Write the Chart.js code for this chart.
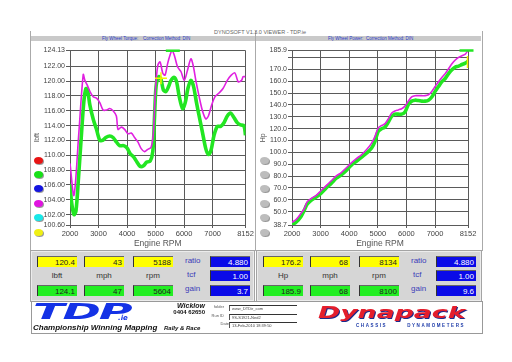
<!DOCTYPE html>
<html>
<head>
<meta charset="utf-8">
<script src="https://cdn.jsdelivr.net/npm/chart.js@4.4.0/dist/chart.umd.min.js"></script>
<style>
body{margin:0;width:512px;height:362px;background:#fff;position:relative;overflow:hidden;font-family:"Liberation Sans",Arial,sans-serif}
.a{position:absolute}
.frame{left:30px;top:31px;width:451px;height:220px;border-left:1px solid #aaa;border-right:1px solid #aaa}
.bar{top:36px;height:5px;background:#c9c9c9}
.hdr{top:36px;font-size:4.5px;line-height:5px;color:#2a3ac8;white-space:nowrap}
.dot{width:9px;height:7px;border-radius:50%;box-shadow:1px 1px 0 #999}
.panel{top:250px;height:50px;background:#d6d6d6;border:1px solid #a4a4a4;box-shadow:inset 0 0 0 1px #ececec}
.box{height:11px;font-size:8px;line-height:12px;text-align:right;padding-right:2px;box-sizing:border-box;border-left:1px solid #333;border-top:1px solid #666}
.y{background:#ffff00;color:#222}
.g{background:#22ee22;color:#222}
.b{background:#0a0ae8;color:#fff}
.lbl{font-size:8px;color:#333;text-align:center;width:40px}
.blu{font-size:8px;color:#3c3cb8}
.strip{left:31px;top:301px;width:450px;height:31px;border:1px solid #999;background:#fff}
.fld{left:197px;width:68px;height:6px;border-top:1px solid #333;border-left:1px solid #555;background:#fff;font-size:4px;line-height:6px;color:#444;padding-left:2px;box-sizing:border-box;white-space:nowrap;overflow:hidden}
.fl{font-size:4px;color:#555;text-align:right;width:20px;left:172px;white-space:nowrap}
</style>
</head>
<body>
<div class="a frame"></div>
<div class="a" style="left:255px;top:31px;width:1px;height:220px;background:#aaa"></div>
<div class="a bar" style="left:31px;width:224px"></div>
<div class="a bar" style="left:256px;width:225px"></div>
<div class="a" style="left:190px;top:29px;width:140px;text-align:center;font-size:5.5px;color:#666;white-space:nowrap">DYNOSOFT V1.3.0 VIEWER - TDP.ie</div>
<div class="a hdr" style="left:102px">Fly Wheel Torque:</div>
<div class="a hdr" style="left:143px">Correction Method: DIN</div>
<div class="a hdr" style="left:328px">Fly Wheel Power:</div>
<div class="a hdr" style="left:366px">Correction Method: DIN</div>

<canvas id="torque" class="a" width="225" height="209" style="left:30px;top:41px"></canvas>
<canvas id="power" class="a" width="226" height="209" style="left:256px;top:41px"></canvas>

<div id="dots"></div>
<div id="panels"></div>

<div class="a strip">
  <div class="a" style="left:1px;top:-3px;font-family:'DejaVu Sans';font-weight:bold;font-style:italic;font-size:22px;color:#1432e6;transform-origin:0 0;transform:scaleX(2.1);letter-spacing:-1px">TDP</div>
  <div class="a" style="left:86px;top:12px;font-family:'DejaVu Sans';font-weight:bold;font-style:italic;font-size:7px;color:#1432e6">.ie</div>
  <div class="a" style="left:1px;top:21px;font-weight:bold;font-style:italic;font-size:8px;color:#111;white-space:nowrap">Championship Winning Mapping</div>
  <div class="a" style="left:132px;top:22.5px;font-weight:bold;font-style:italic;font-size:6px;color:#111;white-space:nowrap">Rally &amp; Race</div>
  <div class="a" style="left:130px;top:0px;width:43px;text-align:right;font-weight:bold;font-style:italic;font-size:7px;color:#111">Wicklow</div>
  <div class="a" style="left:130px;top:7px;width:43px;text-align:right;font-weight:bold;font-size:6px;color:#111;white-space:nowrap">0404 62650</div>
  <div class="a fl" style="top:2px">folder</div>
  <div class="a fl" style="top:11px">Run ID</div>
  <div class="a fl" style="top:19px;left:177px">Date</div>
  <div class="a fld" style="top:3px">www_DTDir_com</div>
  <div class="a fld" style="top:12px">9S-S1921-Ned2</div>
  <div class="a fld" style="top:20px">13-Feb-2010 18:39:50</div>
  <div class="a" style="left:286px;top:1px;font-family:'DejaVu Sans';font-weight:bold;font-style:italic;font-size:16.5px;color:#e41e2c;transform-origin:0 0;transform:scaleX(1.62);text-shadow:0.6px 0.8px 0 #1c2a8c;white-space:nowrap">Dynapack</div>
  <div class="a" style="left:324px;top:21px;font-weight:bold;font-size:4.5px;color:#1c3aa8;letter-spacing:1.6px;white-space:nowrap">CHASSIS&nbsp;&nbsp;&nbsp;&nbsp;&nbsp;&nbsp;&nbsp;DYNAMOMETERS</div>
</div>

<script>
// rpm axis
var rpmTicks = [2000, 3000, 4000, 5000, 6000, 7000, 8152];
var torqueTicks = [100.6, 102, 104, 106, 108, 110, 112, 114, 116, 118, 120, 122, 124.13];
var powerTicks = [38.7, 50, 60, 70, 80, 90, 100, 110, 120, 130, 140, 150, 160, 170, 180, 185.9];

// torque runs (lbft)
var torqueRpmMag = [2000, 2139, 2300, 2464, 2522, 2600, 2700, 2812, 2930, 3045, 3160, 3277, 3393, 3509, 3625, 3683, 3799, 3915, 4031, 4147, 4263, 4380, 4496, 4612, 4728, 4844, 4925, 4995, 5076, 5157, 5250, 5331, 5424, 5505, 5575, 5656, 5772, 5888, 6005, 6121, 6237, 6318, 6411, 6527, 6643, 6759, 6852, 6968, 7084, 7223, 7363, 7514, 7653, 7781, 7897, 8013, 8071, 8152];
var torqueMag = [108.9, 104.6, 112.5, 120.9, 120.1, 119.5, 118.6, 117.9, 117.7, 117.1, 116.1, 116.1, 116.3, 116.0, 115.3, 113.5, 113.8, 113.5, 112.9, 113.0, 112.4, 111.8, 110.9, 110.5, 110.8, 111.1, 113.1, 118.8, 122.1, 122.6, 121.1, 120.8, 122.4, 123.5, 124.1, 123.5, 121.9, 121.3, 120.1, 121.5, 123.0, 122.1, 120.1, 117.9, 116.0, 114.9, 115.3, 116.8, 117.9, 118.4, 119.0, 120.1, 120.8, 121.1, 119.9, 120.1, 120.6, 120.6];
var torqueRpmGrn = [2000, 2058, 2139, 2209, 2290, 2406, 2487, 2557, 2615, 2696, 2812, 2928, 3045, 3137, 3254, 3393, 3509, 3625, 3741, 3880, 3996, 4113, 4229, 4345, 4461, 4577, 4693, 4809, 4902, 4960, 5018, 5111, 5192, 5273, 5366, 5459, 5540, 5656, 5737, 5830, 5947, 6040, 6133, 6237, 6330, 6434, 6527, 6643, 6759, 6852, 6945, 7049, 7165, 7281, 7398, 7514, 7630, 7746, 7862, 7979, 8095, 8152];
var torqueGrn = [106.1, 103.6, 102.0, 102.5, 106.5, 113.1, 117.3, 119.0, 118.8, 116.8, 114.9, 113.5, 112.0, 112.0, 112.4, 112.6, 112.4, 111.8, 111.3, 111.3, 111.0, 110.2, 109.8, 109.1, 108.5, 108.6, 109.1, 109.2, 110.5, 114.9, 119.3, 120.6, 120.2, 118.8, 118.6, 119.3, 120.1, 120.5, 119.9, 117.9, 116.3, 117.1, 119.0, 120.1, 119.3, 117.1, 115.3, 113.1, 110.9, 110.1, 110.7, 112.7, 113.9, 113.9, 114.4, 115.3, 115.7, 115.1, 114.4, 114.1, 114.0, 112.7];

// power runs (Hp)
var powerRpm = [2000, 2141, 2316, 2434, 2527, 2668, 2844, 3019, 3195, 3371, 3547, 3722, 3898, 4074, 4250, 4426, 4602, 4777, 4894, 5012, 5129, 5246, 5363, 5480, 5597, 5715, 5832, 5949, 6066, 6183, 6300, 6418, 6535, 6652, 6769, 6886, 7004, 7121, 7238, 7355, 7473, 7590, 7707, 7824, 7941, 8059, 8152];
var powerMag = [41.0, 43.2, 48.6, 52.7, 58.2, 61.0, 63.7, 67.8, 71.9, 76.0, 80.1, 82.9, 87.0, 91.1, 94.7, 97.9, 102.1, 107.5, 113.0, 120.4, 122.6, 124.0, 128.1, 133.0, 134.9, 135.8, 136.8, 139.0, 143.2, 146.7, 147.8, 147.8, 147.8, 147.8, 148.6, 151.4, 155.5, 159.6, 163.2, 166.4, 170.5, 174.7, 177.9, 180.1, 181.5, 182.9, 185.9];
var powerGrn = [39.0, 41.0, 45.9, 51.4, 56.2, 59.6, 62.3, 65.6, 70.0, 73.8, 78.2, 81.0, 84.8, 89.2, 92.5, 95.8, 99.3, 103.4, 108.9, 117.7, 119.9, 121.2, 125.3, 130.3, 132.2, 132.2, 132.2, 134.1, 140.4, 143.2, 144.0, 143.7, 143.2, 143.2, 144.0, 146.7, 151.4, 155.5, 159.6, 162.3, 166.4, 169.7, 171.9, 172.7, 174.1, 175.2, 176.8];

// cursor readouts: [yellow, green]
var torqueCursorRpm = [5188, 5604];
var torqueCursor = [120.4, 124.1];
var torqueCursorMph = [43, 47];
var torqueGain = 3.7;
var powerCursorRpm = [8134, 8100];
var powerCursor = [176.2, 185.9];
var powerCursorMph = [68, 68];
var powerGain = 9.6;
var ratio = 4.880, tcf = 1.00;

var MAG = '#e020e0', GRN = '#22e622', GRID = '#5a5a5a', TXT = '#444';
var FONT = 'Liberation Sans';

function pts(xs, ys) { return xs.map(function (x, i) { return {x: x, y: ys[i]}; }); }

function makeChart(id, opt) {
  new Chart(document.getElementById(id), {
    type: 'line',
    data: {
      datasets: [
        {data: pts(opt.cx.slice(0, 1), opt.cy.slice(0, 1)), showLine: false, pointStyle: opt.yStyle, rotation: opt.yRot, pointRadius: 6,
         pointBorderColor: '#f4f400', pointBorderWidth: 1.5, clip: false},
        {data: pts(opt.cx.slice(1), opt.cy.slice(1)), showLine: false, pointStyle: 'line', pointRadius: 7,
         pointBorderColor: GRN, pointBorderWidth: 2.5, clip: false},
        {data: pts(opt.magX, opt.magY), borderColor: MAG, borderWidth: 1.6, pointRadius: 0, tension: 0.3},
        {data: pts(opt.grnX, opt.grnY), borderColor: GRN, borderWidth: 3.6, pointRadius: 0, tension: 0.3}
      ]
    },
    options: {
      responsive: false, animation: false, events: [],
      layout: {padding: {left: 0, right: opt.padR, top: 5, bottom: 0}},
      plugins: {legend: {display: false}, tooltip: {enabled: false}},
      scales: {
        x: {
          type: 'linear', min: 2000, max: 8152,
          afterBuildTicks: function (s) { s.ticks = rpmTicks.map(function (v) { return {value: v}; }); },
          afterFit: function (s) { s.height = 25; },
          ticks: {autoSkip: false, maxRotation: 0, padding: 1, color: TXT, font: {family: FONT, size: 7.5},
                  callback: function (v) { return String(v); }},
          grid: {color: GRID, tickLength: 3},
          border: {color: GRID},
          title: {display: true, text: 'Engine RPM', color: '#555', font: {family: FONT, size: 8.5}, padding: {top: 0, bottom: 1}}
        },
        y: {
          min: opt.yTicks[0], max: opt.yTicks[opt.yTicks.length - 1],
          afterBuildTicks: function (s) { s.ticks = opt.yTicks.map(function (v) { return {value: v}; }); },
          afterFit: function (s) { s.width = opt.yW; },
          ticks: {autoSkip: false, padding: 1, color: TXT, font: {family: FONT, size: 7}, callback: opt.fmt},
          grid: {color: GRID, tickLength: 4},
          border: {color: GRID},
          title: {display: true, text: opt.unit, color: '#555', font: {family: FONT, size: 7}, padding: {top: 3, bottom: 0}}
        }
      }
    }
  });
}

makeChart('torque', {
  magX: torqueRpmMag, magY: torqueMag, grnX: torqueRpmGrn, grnY: torqueGrn,
  cx: torqueCursorRpm, cy: torqueCursor, yStyle: 'cross', yRot: 0,
  yTicks: torqueTicks, yW: 40, padR: 8, unit: 'lbft',
  fmt: function (v) { return v.toFixed(2); }
});
makeChart('power', {
  magX: powerRpm, magY: powerMag, grnX: powerRpm, grnY: powerGrn,
  cx: powerCursorRpm, cy: powerCursor, yStyle: 'line', yRot: 90,
  yTicks: powerTicks, yW: 36, padR: 14, unit: 'Hp',
  fmt: function (v) { return v === 180 ? '' : v.toFixed(1); }
});

// run selector dots
var dotColors = ['#e81414', '#18e018', '#1414e0', '#e014e0', '#18e8e8', '#f0f014'];
var dotY = [157, 171, 185, 200, 214, 229];
var dh = '';
dotY.forEach(function (y, i) {
  dh += '<div class="a dot" style="left:34px;top:' + y + 'px;background:' + dotColors[i] + '"></div>';
  dh += '<div class="a dot" style="left:260px;top:' + y + 'px;background:#bdbdbd"></div>';
});
document.getElementById('dots').innerHTML = dh;

// readout panels
function panel(left, width, unit, cur, rpm, mph, gain) {
  var h = '<div class="a panel" style="left:' + left + 'px;width:' + width + 'px">';
  var cols = [6, 53, 102];
  var top = [cur[0].toFixed(1), mph[0], rpm[0]];
  var bot = [cur[1].toFixed(1), mph[1], rpm[1]];
  var names = [unit, 'mph', 'rpm'];
  cols.forEach(function (x, i) {
    h += '<div class="a box y" style="left:' + x + 'px;top:5px;width:40px">' + top[i] + '</div>';
    h += '<div class="a lbl" style="left:' + x + 'px;top:20px">' + names[i] + '</div>';
    h += '<div class="a box g" style="left:' + x + 'px;top:34px;width:40px">' + bot[i] + '</div>';
  });
  h += '<div class="a blu" style="left:154px;top:5px">ratio</div>';
  h += '<div class="a blu" style="left:156px;top:19px">tcf</div>';
  h += '<div class="a blu" style="left:154px;top:33px">gain</div>';
  h += '<div class="a box b" style="left:179px;top:5px;width:40px">' + ratio.toFixed(3) + '</div>';
  h += '<div class="a box b" style="left:179px;top:19px;width:40px">' + tcf.toFixed(2) + '</div>';
  h += '<div class="a box b" style="left:179px;top:34px;width:40px">' + gain.toFixed(1) + '</div>';
  return h + '</div>';
}
document.getElementById('panels').innerHTML =
  panel(30, 223, 'lbft', torqueCursor, torqueCursorRpm, torqueCursorMph, torqueGain) +
  panel(256, 224, 'Hp', powerCursor, powerCursorRpm, powerCursorMph, powerGain);
</script>
</body>
</html>
